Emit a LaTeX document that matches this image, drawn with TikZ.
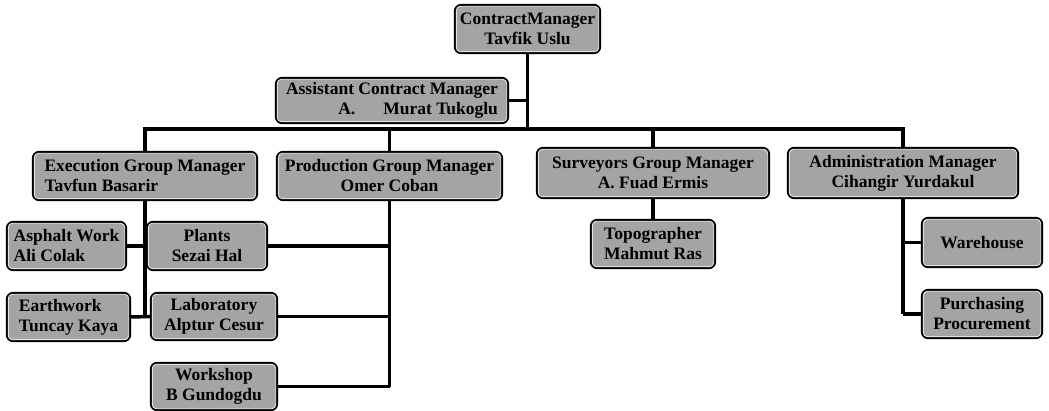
\documentclass[tikz,border=0pt]{standalone}
\usepackage{fontspec}
\setmainfont{Liberation Serif}
\definecolor{boxgray}{HTML}{A4A4A4}
\definecolor{innergray}{HTML}{E2E2E2}
\begin{document}
\begin{tikzpicture}[x=1pt,y=-1pt,
  box/.style={rectangle, draw=black, line width=2.2pt, rounded corners=6pt,
    fill=boxgray, font=\fontsize{17.5}{20}\selectfont\bfseries,
    inner xsep=2pt, inner ysep=0pt, align=center},
  innerline/.style={draw=innergray, line width=0.9pt, rounded corners=4pt},
  conn/.style={line width=3.5pt, draw=black}]
\fill[white] (0,0) rectangle (1049,411);
\useasboundingbox (0,0) rectangle (1049,411);

% top level
\node[box, minimum width=145pt, minimum height=48pt] (cm) at (527.5,29) {ContractManager\\Tavfik Uslu};
\node[box, minimum width=232pt, minimum height=45pt, align=right] (asst) at (392,100.5) {Assistant Contract Manager\\A.\hspace{1.6em}Murat Tukoglu};

% group managers
\node[box, minimum width=224pt, minimum height=48pt, align=left] (exe) at (145,176) {Execution Group Manager\\Tavfun Basarir};
\node[box, minimum width=225pt, minimum height=48pt] (prod) at (389.5,176) {Production Group Manager\\Omer Coban};
\node[box, minimum width=232pt, minimum height=50pt] (surv) at (653,173) {Surveyors Group Manager\\A. Fuad Ermis};
\node[box, minimum width=230pt, minimum height=50pt] (admin) at (903,173) {Administration Manager\\Cihangir Yurdakul};

% execution subunits
\node[box, minimum width=119pt, minimum height=48pt, align=left] (asph) at (66.5,246) {Asphalt Work\\Ali Colak};
\node[box, minimum width=120pt, minimum height=48pt] (plants) at (207,246) {Plants\\Sezai Hal};
\node[box, minimum width=123pt, minimum height=48pt, align=left] (earth) at (68.5,317) {Earthwork\\Tuncay Kaya};
\node[box, minimum width=126pt, minimum height=47pt] (lab) at (214,316.5) {Laboratory\\Alptur Cesur};
\node[box, minimum width=126pt, minimum height=47pt] (work) at (214,386.5) {Workshop\\B Gundogdu};

% surveyors / admin subunits
\node[box, minimum width=124pt, minimum height=48pt] (topo) at (653,244) {Topographer\\Mahmut Ras};
\node[box, minimum width=120pt, minimum height=49pt] (ware) at (982,242.5) {Warehouse};
\node[box, minimum width=120pt, minimum height=48pt] (purch) at (982,314) {Purchasing\\Procurement};

% inner light borders
\foreach \n in {cm,asst,exe,prod,surv,admin,asph,plants,earth,lab,work,topo,ware,purch}
  \draw[innerline] ([xshift=2.4pt,yshift=-2.4pt]\n.north west) rectangle ([xshift=-2.4pt,yshift=2.4pt]\n.south east);

% connectors
\coordinate (barY) at (0,129);
\draw[conn] (cm.south) -- (cm.south |- barY);
\draw[conn] (asst.east) -- (asst.east -| cm.south);
\draw[conn] (exe.north) -- (exe.north |- barY) -- (admin.north |- barY) -- (admin.north);
\draw[conn] (prod.north) -- (prod.north |- barY);
\draw[conn] (surv.north) -- (surv.north |- barY);

\draw[conn] (exe.south) -- (exe.south |- earth.east);
\draw[conn] (asph.east) -- (asph.east -| exe.south);
\draw[conn] (earth.east) -- (lab.west);

\draw[conn] (prod.south) -- (prod.south |- work.east);
\draw[conn] (plants.east) -- (plants.east -| prod.south);
\draw[conn] (lab.east) -- (lab.east -| prod.south);
\draw[conn] (work.east) -- (work.east -| prod.south);

\draw[conn] (surv.south) -- (topo.north);

\draw[conn] (admin.south) -- (admin.south |- purch.west);
\draw[conn] (ware.west) -- (ware.west -| admin.south);
\draw[conn] (purch.west) -- (purch.west -| admin.south);
\end{tikzpicture}
\end{document}
